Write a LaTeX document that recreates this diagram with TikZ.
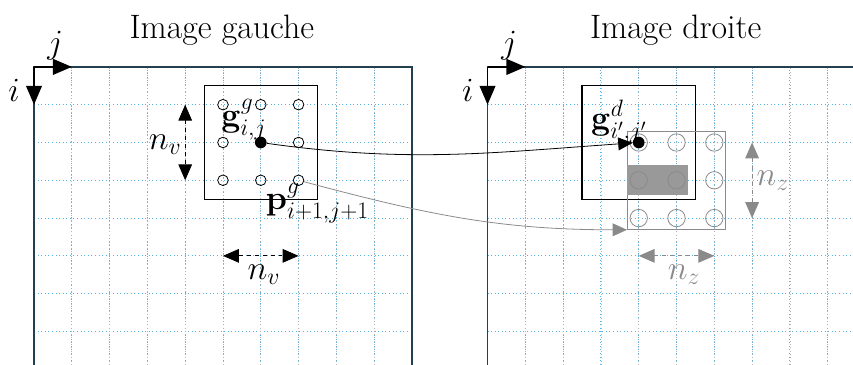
\RequirePackage{fix-cm}
\documentclass[tikz,border=0pt]{standalone}
\usepackage{amsmath}
\usetikzlibrary{arrows.meta,positioning}
\definecolor{gcyan}{HTML}{55B4E6}
\definecolor{gframe}{HTML}{22404F}
\definecolor{ggray}{HTML}{8A8A8A}
\definecolor{gfill}{HTML}{999999}
\begin{document}
\begin{tikzpicture}[every node/.style={font=\fontsize{25.5}{30}\selectfont},gridl/.style={gcyan,dotted,line width=0.7pt},gridv/.style={gray!60,dotted,line width=0.5pt},frame/.style={gframe,line width=1pt},win/.style={draw,line width=0.8pt},pt/.style={circle,draw,inner sep=0pt,minimum size=2.8mm,line width=0.6pt},ptz/.style={pt,draw=ggray,minimum size=4.6mm},dot/.style={circle,fill,inner sep=0pt,minimum size=3.1mm},axe/.style={-{Triangle[length=5mm,width=4.2mm]},line width=1pt},dim/.style={{Triangle[length=4.2mm,width=3.6mm]}-{Triangle[length=4.2mm,width=3.6mm]},dashed,line width=0.6pt},lien/.style={-{Triangle[length=3.8mm,width=3.4mm]},line width=0.6pt}]
\useasboundingbox (-0.9,1.77) rectangle (21.67,-7.88);
% grilles
\draw[gridl] (0,0) grid (10,-7.88); \draw[gridv,xstep=1,ystep=20] (0,0) grid (10,-7.88);
\draw[gridl] (12,0) grid (21.67,-7.88); \draw[gridv,xstep=1,ystep=20] (12,0) grid (21.67,-7.88);
\draw[frame] (0,-7.88)--(0,0)--(10,0)--(10,-7.88); \draw[frame] (12,-7.88)--(12,0)--(21.67,0);
\node (tg) at (4.97,0.98) {Image gauche}; \node (td) at (16.98,0.98) {Image droite};
% axes
\coordinate (og) at (0,0); \coordinate (ogj) at (1,0); \coordinate (ogi) at (0,-1);
\coordinate (od) at (12,0); \coordinate (odj) at (13,0); \coordinate (odi) at (12,-1);
\draw[axe] (og)--(ogj); \draw[axe] (og)--(ogi); \draw[axe] (od)--(odj); \draw[axe] (od)--(odi);
\node (jg) at (0.56,0.55) {$j$}; \node (ig) at (-0.53,-0.61) {$i$};
\node (jd) at (12.57,0.55) {$j$}; \node (id) at (11.48,-0.61) {$i$};
% fenetre gauche
\node[win,minimum size=3cm] (fg) at (6,-2) {};
\node[pt] (l11) at (5,-1) {}; \node[pt] (l12) at (6,-1) {}; \node[pt] (l13) at (7,-1) {};
\node[pt] (l21) at (5,-2) {}; \node[pt] (l23) at (7,-2) {};
\node[pt] (l31) at (5,-3) {}; \node[pt] (l32) at (6,-3) {}; \node[pt] (l33) at (7,-3) {};
\node[dot] (gg) at (6,-2) {};
\node (ggl) at (5.55,-1.4) {$\mathbf{g}^g_{i,j}$};
\node (pgl) at (7.5,-3.6) {$\mathbf{p}^g_{i+1,j+1}$};
\coordinate (va) at (4,-1); \coordinate (vb) at (4,-3); \coordinate (ha) at (5,-5); \coordinate (hb) at (7,-5);
\draw[dim] (va)--(vb); \draw[dim] (ha)--(hb);
\node (nv1) at (3.47,-2.05) {$n_v$}; \node (nv2) at (6.08,-5.5) {$n_v$};
% fenetre droite
\node[win,minimum size=3cm] (fd) at (16,-2) {};
\node[draw=ggray,line width=0.6pt,minimum size=2.6cm] (zone) at (17,-3) {};
\node[fill=gfill,minimum width=1.6cm,minimum height=0.8cm] (masque) at (16.5,-3) {};
\node[ptz] (r11) at (16,-2) {}; \node[ptz] (r12) at (17,-2) {}; \node[ptz] (r13) at (18,-2) {};
\node[ptz] (r21) at (16,-3) {}; \node[ptz] (r22) at (17,-3) {}; \node[ptz] (r23) at (18,-3) {};
\node[ptz] (r31) at (16,-4) {}; \node[ptz] (r32) at (17,-4) {}; \node[ptz] (r33) at (18,-4) {};
\node[dot] (gd) at (16,-2) {};
\node (gdl) at (15.48,-1.45) {$\mathbf{g}^d_{i',j'}$};
\coordinate (za) at (19,-2); \coordinate (zb) at (19,-4); \coordinate (zc) at (16,-5); \coordinate (zd) at (18,-5);
\draw[dim,ggray] (za)--(zb); \draw[dim,ggray] (zc)--(zd);
\node[ggray] (nz1) at (19.55,-3.02) {$n_z$}; \node[ggray] (nz2) at (17.2,-5.5) {$n_z$};
% correspondances
\draw[lien] (gg) to[out=-8,in=184] (gd);
\draw[lien,ggray] (l33) to[out=-15,in=180] (zone.south west);
\end{tikzpicture}
\end{document}
